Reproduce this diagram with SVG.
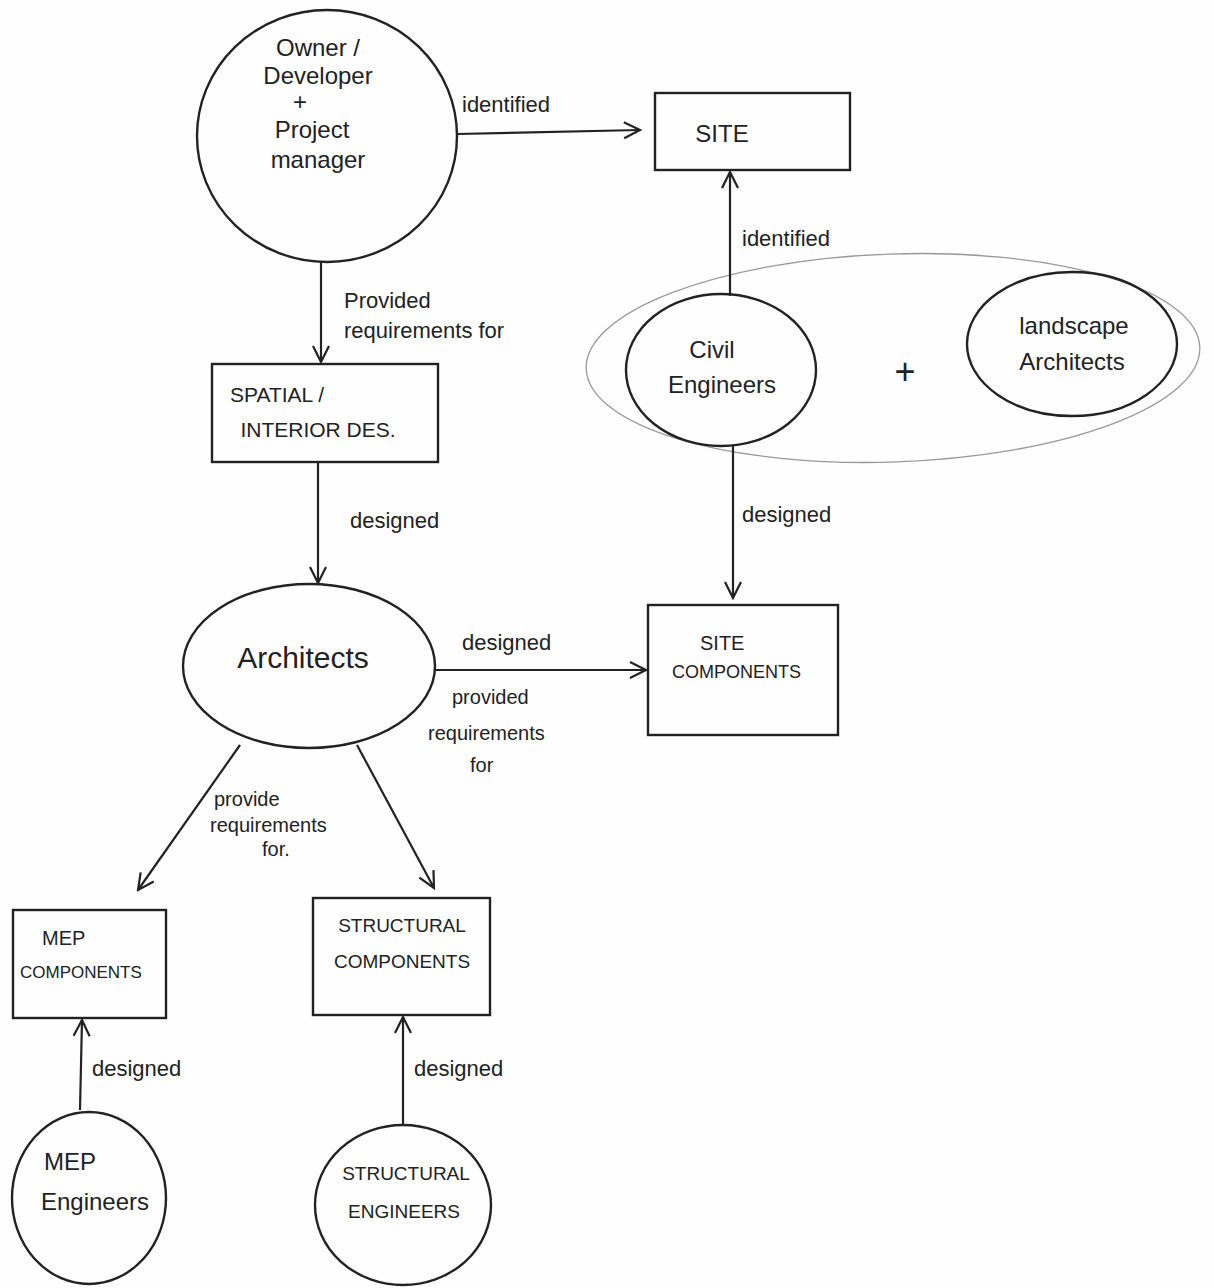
<svg xmlns="http://www.w3.org/2000/svg" width="1214" height="1288" viewBox="0 0 1214 1288">
<defs>
<marker id="arr" viewBox="0 0 20 20" refX="18" refY="10" markerWidth="20" markerHeight="20" markerUnits="userSpaceOnUse" orient="auto">
<path d="M2,2 L18,10 L2,18" fill="none" stroke="#222" stroke-width="2.2"/>
</marker>
<style>
.n{fill:none;stroke:#222;stroke-width:2.4}
.g{fill:none;stroke:#999;stroke-width:1.3}
.c{fill:none;stroke:#222;stroke-width:2.2}
.t{font-family:"Liberation Sans","DejaVu Sans",sans-serif;fill:#222;font-size:24px;text-anchor:middle}
.l{font-family:"Liberation Sans","DejaVu Sans",sans-serif;fill:#222;font-size:22px}
.s{font-size:20px}
</style>
</defs>
<rect width="1214" height="1288" fill="#fefefe"/>

<g id="group-civil-landscape">
<ellipse class="g" cx="893" cy="358" rx="307" ry="104" transform="rotate(-2 893 358)"/>
</g>

<g id="owner">
<ellipse class="n" cx="327" cy="136" rx="130" ry="126"/>
<text class="t" x="318" y="56">Owner /</text>
<text class="t" x="318" y="84">Developer</text>
<text class="t" x="300" y="110">+</text>
<text class="t" x="312" y="138">Project</text>
<text class="t" x="318" y="168">manager</text>
</g>

<g id="site">
<rect class="n" x="655" y="93" width="195" height="77"/>
<text class="t" x="722" y="142">SITE</text>
</g>

<g id="civil">
<ellipse class="n" cx="721" cy="370" rx="95" ry="76"/>
<text class="t" x="712" y="358">Civil</text>
<text class="t" x="722" y="393">Engineers</text>
</g>

<g id="plus">
<text class="t" x="905" y="384" style="font-size:36px">+</text>
</g>

<g id="landscape">
<ellipse class="n" cx="1072" cy="344" rx="105" ry="72"/>
<text class="t" x="1074" y="334">landscape</text>
<text class="t" x="1072" y="370">Architects</text>
</g>

<g id="spatial">
<rect class="n" x="212" y="364" width="226" height="98"/>
<text class="t" x="270" y="402" style="text-anchor:start;font-size:21px" transform="translate(-40 0)">SPATIAL /</text>
<text class="t" x="318" y="437" style="font-size:21px">INTERIOR DES.</text>
</g>

<g id="architects">
<ellipse class="n" cx="309" cy="666" rx="126" ry="82"/>
<text class="t" x="303" y="668" style="font-size:30px">Architects</text>
</g>

<g id="site-components">
<rect class="n" x="648" y="605" width="190" height="130"/>
<text class="l s" x="700" y="650">SITE</text>
<text class="l s" x="672" y="678" style="font-size:18px">COMPONENTS</text>
</g>

<g id="mep-components">
<rect class="n" x="13" y="910" width="153" height="108"/>
<text class="l s" x="42" y="945">MEP</text>
<text class="l" x="20" y="978" style="font-size:17px">COMPONENTS</text>
</g>

<g id="structural-components">
<rect class="n" x="313" y="898" width="177" height="117"/>
<text class="t" x="402" y="932" style="font-size:19px">STRUCTURAL</text>
<text class="t" x="402" y="968" style="font-size:19px">COMPONENTS</text>
</g>

<g id="mep-engineers">
<ellipse class="n" cx="89" cy="1198" rx="77" ry="86"/>
<text class="t" x="70" y="1170">MEP</text>
<text class="t" x="95" y="1210">Engineers</text>
</g>

<g id="structural-engineers">
<ellipse class="n" cx="403" cy="1205" rx="88" ry="80"/>
<text class="t" x="406" y="1180" style="font-size:19px">STRUCTURAL</text>
<text class="t" x="404" y="1218" style="font-size:19px">ENGINEERS</text>
</g>

<g id="connectors">
<line class="c" x1="457" y1="134" x2="640" y2="130" marker-end="url(#arr)"/>
<text class="l" x="462" y="112">identified</text>

<line class="c" x1="730" y1="296" x2="730" y2="172" marker-end="url(#arr)"/>
<text class="l" x="742" y="246">identified</text>

<line class="c" x1="321" y1="262" x2="321" y2="362" marker-end="url(#arr)"/>
<text class="l" x="344" y="308">Provided</text>
<text class="l" x="344" y="338">requirements for</text>

<line class="c" x1="318" y1="462" x2="318" y2="583" marker-end="url(#arr)"/>
<text class="l" x="350" y="528">designed</text>

<line class="c" x1="733" y1="446" x2="733" y2="598" marker-end="url(#arr)"/>
<text class="l" x="742" y="522">designed</text>

<line class="c" x1="435" y1="670" x2="646" y2="670" marker-end="url(#arr)"/>
<text class="l" x="462" y="650">designed</text>
<text class="l s" x="452" y="704">provided</text>
<text class="l s" x="428" y="740">requirements</text>
<text class="l s" x="470" y="772">for</text>

<line class="c" x1="240" y1="745" x2="138" y2="890" marker-end="url(#arr)"/>
<line class="c" x1="357" y1="745" x2="434" y2="888" marker-end="url(#arr)"/>
<text class="l s" x="214" y="806">provide</text>
<text class="l s" x="210" y="832">requirements</text>
<text class="l s" x="262" y="856">for.</text>

<line class="c" x1="80" y1="1110" x2="82" y2="1020" marker-end="url(#arr)"/>
<text class="l" x="92" y="1076">designed</text>

<line class="c" x1="403" y1="1126" x2="403" y2="1017" marker-end="url(#arr)"/>
<text class="l" x="414" y="1076">designed</text>
</g>
</svg>
